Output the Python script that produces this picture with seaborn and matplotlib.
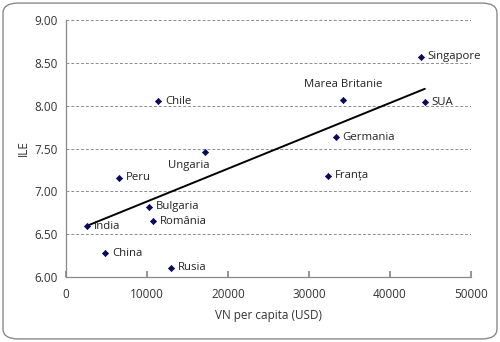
import matplotlib
matplotlib.use("Agg")
import matplotlib.pyplot as plt
from matplotlib.patches import FancyBboxPatch
import seaborn as sns
import pandas as pd

countries = ["Singapore", "Marea Britanie", "SUA", "Germania", "Franța", "Chile",
             "Ungaria", "Peru", "Bulgaria", "România", "India", "China", "Rusia"]
gdp_per_capita = [43800, 34200, 44300, 33300, 32300, 11400,
                  17200, 6500, 10200, 10700, 2600, 4800, 13000]
ile = [8.57, 8.07, 8.04, 7.63, 7.18, 8.05,
       7.46, 7.16, 6.82, 6.65, 6.59, 6.28, 6.11]

df = pd.DataFrame({"country": countries, "gdp": gdp_per_capita, "ile": ile})

sns.set_theme(style="white")
plt.rcParams["font.family"] = ["Open Sans", "DejaVu Sans"]

fig = plt.figure(figsize=(5.0, 3.42), dpi=100)
ax = fig.add_axes([0.132, 0.19, 0.81, 0.7515])

# rounded frame around the whole figure
frame = FancyBboxPatch((0.006, 0.009), 0.988, 0.982,
                       boxstyle="round,pad=0,rounding_size=0.03",
                       transform=fig.transFigure, facecolor="none",
                       edgecolor="#8a8a8a", linewidth=1.0, zorder=0)
fig.patches.append(frame)

sns.regplot(data=df, x="gdp", y="ile", ax=ax, scatter=False, ci=None,
            line_kws={"color": "black", "linewidth": 1.4})
sns.scatterplot(data=df, x="gdp", y="ile", ax=ax, marker="D", s=10,
                color="#0a0a5a", edgecolor="#0a0a5a", linewidth=0.5, zorder=4)

label_style = dict(fontsize=8.2, color="#222222")
offsets = {
    "Marea Britanie": (0, 7, "center", "bottom"),
    "Ungaria": (-12, -6, "center", "top"),
}
for name, xv, yv in zip(countries, gdp_per_capita, ile):
    dx, dy, ha, va = offsets.get(name, (5, 0, "left", "center"))
    ax.annotate(name, (xv, yv), xytext=(dx, dy), textcoords="offset points",
                ha=ha, va=va, **label_style)

ax.set_xlim(0, 50000)
ax.set_ylim(6.0, 9.0)
ax.set_xticks([0, 10000, 20000, 30000, 40000, 50000])
ax.set_yticks([6.0, 6.5, 7.0, 7.5, 8.0, 8.5, 9.0])
ax.set_yticklabels([f"{v:.2f}" for v in [6.0, 6.5, 7.0, 7.5, 8.0, 8.5, 9.0]])
ax.tick_params(axis="both", labelsize=8.5, labelcolor="#333333")
ax.tick_params(axis="x", direction="in", length=4, color="#888888", bottom=True, pad=8)
ax.tick_params(axis="y", length=0, pad=6)

ax.yaxis.grid(True, linestyle=(0, (3, 2)), color="#8c8c8c", linewidth=0.7)
ax.xaxis.grid(False)
for side in ["top", "right"]:
    ax.spines[side].set_visible(False)
for side in ["left", "bottom"]:
    ax.spines[side].set_color("#888888")
    ax.spines[side].set_linewidth(0.9)

ax.set_xlabel("VN per capita (USD)", fontsize=8.5, color="#333333", labelpad=6)
ax.set_ylabel("ILE", fontsize=8.5, color="#333333", labelpad=3)

fig.savefig("out.png", dpi=100)
